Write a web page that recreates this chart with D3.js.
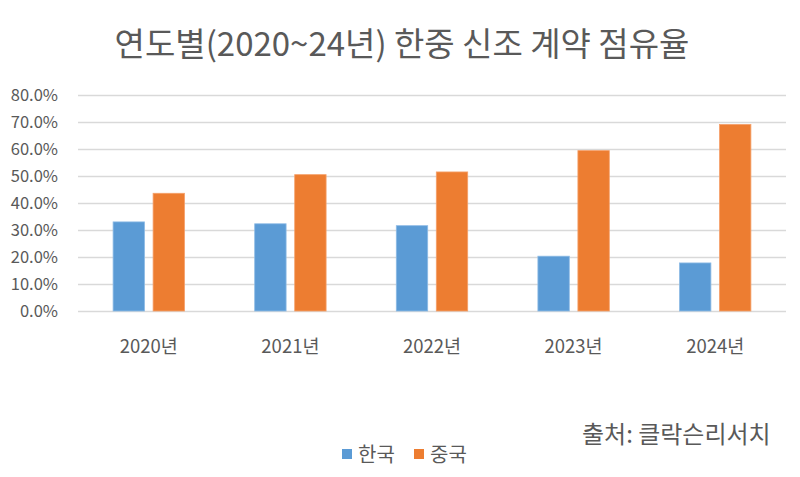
<!DOCTYPE html>
<html><head><meta charset="utf-8">
<script src="https://cdn.jsdelivr.net/npm/d3@7"></script>
<style>body{margin:0;background:#fff}svg{display:block}text{font-family:"Noto Sans CJK KR","Noto Sans",sans-serif;fill:#595959}</style>
</head><body>
<script>
const categories = ["2020년","2021년","2022년","2023년","2024년"];
const seriesNames = ["한국","중국"];
const korea = [33.0, 32.3, 31.6, 20.3, 17.8];
const china = [43.6, 50.5, 51.5, 59.4, 69.1];
const yTicks = [0,10,20,30,40,50,60,70,80];
const colors = ["#5B9BD5","#ED7D31"];

(function(){
const W=800,H=477;
const svg=d3.select("body").append("svg").attr("width",W).attr("height",H);
const mLeft=78,mRight=786,mTop=95,mBottom=311;
const y=d3.scaleLinear().domain([0,80]).range([mBottom,mTop]);
const x0=d3.scaleBand().domain(categories).range([mLeft,mRight]).padding(0);
const bw=x0.bandwidth();
const x1=d3.scaleBand().domain(seriesNames).range([bw/2-35.7,bw/2+35.7]).paddingInner(0.215).paddingOuter(0);

svg.append("text").attr("x",402).attr("y",56).attr("text-anchor","middle").style("font-size","33px").text("연도별(2020~24년) 한중 신조 계약 점유율");

const yAxis=d3.axisLeft(y).tickValues(yTicks).tickSize(-(mRight-mLeft)).tickFormat(d=>d.toFixed(1)+"%");
const ga=svg.append("g").attr("transform",`translate(${mLeft},0)`).call(yAxis);
ga.select(".domain").remove();
ga.selectAll(".tick line").attr("stroke","#d9d9d9").attr("stroke-width",1.3);
ga.selectAll(".tick text").attr("x",-20).attr("dy","0.35em").style("font-size","16.5px").style("fill","#595959");

const data=categories.map((c,i)=>({c,vals:[korea[i],china[i]]}));
const g=svg.append("g");
data.forEach(d=>{
  d.vals.forEach((v,j)=>{
    g.append("rect").attr("x",x0(d.c)+x1(seriesNames[j])).attr("width",x1.bandwidth())
     .attr("y",y(v)).attr("height",y(0)-y(v)).attr("fill",colors[j])
     .attr("stroke",j==0?"#8dbbe5":"#f5a06a").attr("stroke-width",0.8);
  });
});

const xAxis=d3.axisBottom(x0).tickSize(0);
const gx=svg.append("g").attr("transform",`translate(0,${mBottom})`).call(xAxis);
gx.select(".domain").remove();
gx.selectAll(".tick text").attr("dy",0).attr("y",42).style("font-size","18.5px").style("fill","#595959");
ga.attr("font-family",null); gx.attr("font-family",null);

const lg=svg.append("g");
const lx=[342,414];
seriesNames.forEach((s,i)=>{
  lg.append("rect").attr("x",lx[i]).attr("y",449).attr("width",10).attr("height",10).attr("fill",colors[i]);
  lg.append("text").attr("x",lx[i]+16).attr("y",462).style("font-size","20px").text(s);
});

svg.append("text").attr("x",582).attr("y",443).style("font-size","24px").text("출처: 클락슨리서치");
})();
</script>
</body></html>
